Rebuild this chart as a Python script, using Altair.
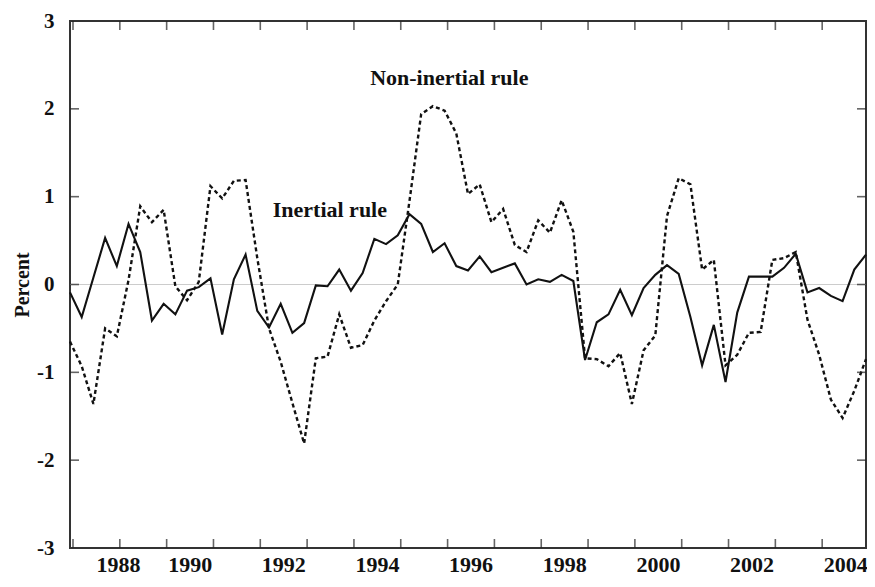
import altair as alt
import pandas as pd

# Quarterly series, 1988Q1 onward (percent)
inertial = [
    -0.09, -0.37, 0.08, 0.53, 0.21, 0.69, 0.37, -0.41, -0.22, -0.34,
    -0.07, -0.03, 0.07, -0.57, 0.06, 0.34, -0.30, -0.49, -0.22, -0.55,
    -0.44, -0.01, -0.02, 0.17, -0.07, 0.13, 0.52, 0.46, 0.56, 0.80,
    0.69, 0.37, 0.47, 0.21, 0.16, 0.32, 0.14, 0.19, 0.24, 0.00,
    0.06, 0.03, 0.11, 0.04, -0.86, -0.43, -0.34, -0.06, -0.35, -0.04,
    0.11, 0.22, 0.12, -0.37, -0.92, -0.46, -1.11, -0.32, 0.09, 0.09,
    0.09, 0.19, 0.35, -0.09, -0.04, -0.13, -0.19, 0.17, 0.34,
]
non_inertial = [
    -0.65, -0.93, -1.36, -0.50, -0.59, 0.05, 0.89, 0.71, 0.85, -0.02,
    -0.18, 0.03, 1.12, 0.98, 1.18, 1.19, 0.30, -0.50, -0.88, -1.35,
    -1.81, -0.84, -0.82, -0.34, -0.72, -0.69, -0.41, -0.19, 0.00, 0.95,
    1.94, 2.03, 1.98, 1.72, 1.03, 1.14, 0.71, 0.86, 0.45, 0.37,
    0.73, 0.59, 0.96, 0.60, -0.84, -0.85, -0.93, -0.78, -1.36, -0.75,
    -0.58, 0.78, 1.21, 1.14, 0.17, 0.28, -0.92, -0.80, -0.55, -0.54,
    0.28, 0.30, 0.37, -0.40, -0.80, -1.31, -1.52, -1.21, -0.85,
]
x_tick_years = list(range(1988, 2005))
x_label_years = list(range(1988, 2005, 2))
y_tick_values = [-2, -1, 0, 1, 2]
y_label_values = [-3, -2, -1, 0, 1, 2, 3]
annot_labels = ["Non-inertial rule", "Inertial rule"]
annot_x = [1996.1, 1993.55]
annot_y = [2.35, 0.85]

X_MIN, X_MAX = 1988, 2005
Y_MIN, Y_MAX = -3, 3

t = [X_MIN + i / 4 for i in range(len(inertial))]
df = pd.DataFrame({"t": t, "inertial": inertial, "noninertial": non_inertial})
# tick marks sit on the frame edges (domain ends)
xt = pd.DataFrame({
    "t": x_tick_years + x_tick_years,
    "v": [Y_MIN] * len(x_tick_years) + [Y_MAX] * len(x_tick_years),
})
yt = pd.DataFrame({
    "t": [X_MIN] * len(y_tick_values) + [X_MAX] * len(y_tick_values),
    "v": y_tick_values + y_tick_values,
})
ann = pd.DataFrame({"t": annot_x, "v": annot_y, "label": annot_labels})

W, H = 796, 527
FONT = "Liberation Serif"
INK = "#111111"
TICK = "#222222"

xscale = alt.Scale(domain=[X_MIN, X_MAX], nice=False, zero=False)
yscale = alt.Scale(domain=[Y_MIN, Y_MAX], nice=False, zero=False)

x_axis = alt.Axis(values=x_label_years, labelExpr="datum.value", labelOffset=26,
                  labelPadding=6, labelFontSize=22, ticks=False, domain=False, grid=False)
y_axis = alt.Axis(values=y_label_values, labelExpr="'' + datum.value",
                  labelPadding=16, ticks=False, domain=False, grid=False,
                  titlePadding=4)

solid = alt.Chart(df).mark_line(color=INK, strokeWidth=2.1).encode(
    x=alt.X("t:Q", scale=xscale, axis=x_axis, title=None),
    y=alt.Y("inertial:Q", scale=yscale, axis=y_axis, title="Percent"),
)
dashed = alt.Chart(df).mark_line(color=INK, strokeWidth=2.4, strokeDash=[4, 3]).encode(
    x=alt.X("t:Q", scale=xscale, title=None),
    y=alt.Y("noninertial:Q", scale=yscale, title="Percent"),
)
zero = alt.Chart(df).mark_rule(color="#cccccc", strokeWidth=1).encode(
    y=alt.datum(0, scale=yscale),
)

x_ticks = alt.Chart(xt).mark_tick(orient="vertical", size=18, thickness=1.6,
                                  color=TICK, clip=True, xOffset=3).encode(
    x=alt.X("t:Q", scale=xscale, title=None),
    y=alt.Y("v:Q", scale=yscale, title="Percent"),
)
y_ticks = alt.Chart(yt).mark_tick(orient="horizontal", size=18, thickness=1.6,
                                  color=TICK, clip=True).encode(
    x=alt.X("t:Q", scale=xscale, title=None),
    y=alt.Y("v:Q", scale=yscale, title="Percent"),
)

labels = alt.Chart(ann).mark_text(font=FONT, fontWeight="bold", fontSize=22, color=INK,
                                  align="center", baseline="middle").encode(
    x=alt.X("t:Q", scale=xscale, title=None),
    y=alt.Y("v:Q", scale=yscale, title="Percent"),
    text="label:N",
)

chart = alt.layer(zero, dashed, solid, x_ticks, y_ticks, labels).properties(
    width=W, height=H,
    autosize=alt.AutoSizeParams(type="none"),
    padding={"left": 62, "top": 13, "right": 1, "bottom": 31},
    background="white",
).configure_view(
    stroke="#333333", strokeWidth=2,
).configure_axis(
    labelFont=FONT, labelFontWeight="bold", labelFontSize=21, labelColor=INK,
    titleFont=FONT, titleFontWeight="bold", titleFontSize=20, titleColor=INK,
)

chart.save("out.html", embed_options={"renderer": "svg", "actions": False})
